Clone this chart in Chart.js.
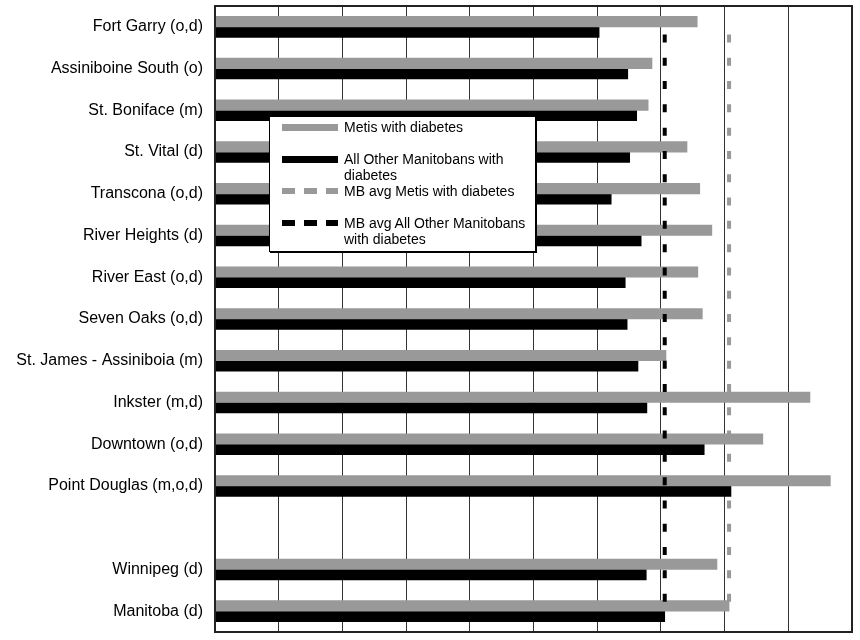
<!DOCTYPE html>
<html>
<head>
<meta charset="utf-8">
<script src="https://cdn.jsdelivr.net/npm/chart.js@4/dist/chart.umd.min.js"></script>
<style>
    body { margin: 0; background: #fff; font-family: "Liberation Sans", Arial, sans-serif; }
    #wrap { position: relative; width: 860px; height: 640px; }
    #legend-box {
        position: absolute; left: 269px; top: 116px; width: 265px;
        background: #fff; border: 1px solid #000; box-shadow: 1px 1px 0 #000;
        padding: 2px 0 4px 0;
    }
    .legend-row { display: flex; height: 32px; align-items: flex-start; }
    .legend-symbol { width: 56px; margin: 5px 6px 0 12px; flex: none; }
    .legend-text { width: 186px; font-size: 14px; line-height: 16px; color: #000; }
</style>
</head>
<body>
<div id="wrap">
    <canvas id="chart" width="860" height="640"></canvas>
    <div id="legend-box"></div>
</div>
<script>
// Categories (blank row separates the areas from Winnipeg / Manitoba)
const categories = [
    'Fort Garry (o,d)', 'Assiniboine South (o)', 'St. Boniface (m)', 'St. Vital (d)',
    'Transcona (o,d)', 'River Heights (d)', 'River East (o,d)', 'Seven Oaks (o,d)',
    'St. James - Assiniboia (m)', 'Inkster (m,d)', 'Downtown (o,d)', 'Point Douglas (m,o,d)',
    '', 'Winnipeg (d)', 'Manitoba (d)'
];
const metisValues = [7.57, 6.86, 6.80, 7.41, 7.61, 7.80, 7.58, 7.65, 7.08, 9.34, 8.60, 9.66, null, 7.88, 8.07];
const otherValues = [6.03, 6.48, 6.62, 6.51, 6.22, 6.69, 6.44, 6.47, 6.64, 6.78, 7.68, 8.10, null, 6.77, 7.06];
const avgMetis = 8.07;
const avgOther = 7.06;
const seriesLabels = ['Metis with diabetes', 'All Other Manitobans with diabetes',
    'MB avg Metis with diabetes', 'MB avg All Other Manitobans with diabetes'];
const seriesColors = ['#999999', '#000000', '#999999', '#000000'];
const xTicks = [0, 1, 2, 3, 4, 5, 6, 7, 8, 9, 10];

// full-height vertical line on a hidden 0..1 axis
function avgLine(value) {
    return [{ x: value, y: 1 }, { x: value, y: 0 }];
}

// frame around the plot area
const frame = {
    id: 'frame',
    afterDraw(chart) {
        const a = chart.chartArea;
        const ctx = chart.ctx;
        ctx.save();
        ctx.strokeStyle = '#222';
        ctx.lineWidth = 2;
        ctx.strokeRect(a.left, a.top, a.right - a.left, a.bottom - a.top);
        ctx.restore();
    }
};

// the line datasets take a slot in the bar grouping too, so they go first and last
// and the two bars land in the middle slots of each row
var chart = new Chart(document.getElementById('chart').getContext('2d'), {
    type: 'bar',
    data: {
        labels: categories,
        datasets: [
            { type: 'line', label: seriesLabels[3], data: avgLine(avgOther), yAxisID: 'yAvg',
              borderColor: seriesColors[3], borderWidth: 4, borderDash: [8, 15.3], pointRadius: 0, order: 0 },
            { label: seriesLabels[0], data: metisValues, backgroundColor: seriesColors[0], order: 1,
              categoryPercentage: 1.0, barPercentage: 1.0 },
            { label: seriesLabels[1], data: otherValues, backgroundColor: seriesColors[1], order: 1,
              categoryPercentage: 1.0, barPercentage: 1.0 },
            { type: 'line', label: seriesLabels[2], data: avgLine(avgMetis), yAxisID: 'yAvg',
              borderColor: seriesColors[2], borderWidth: 4, borderDash: [8, 15.3], pointRadius: 0, order: 2 }
        ]
    },
    options: {
        indexAxis: 'y',
        responsive: false,
        animation: false,
        layout: { padding: { top: 6, right: 8, bottom: 8, left: 0 } },
        plugins: { legend: { display: false }, tooltip: { enabled: false } },
        scales: {
            x: {
                min: 0, max: 10,
                afterBuildTicks: function (scale) { scale.ticks = xTicks.map(v => ({ value: v })); },
                ticks: { display: false },
                grid: { color: '#333', lineWidth: 1, drawTicks: false },
                border: { display: false }
            },
            y: {
                afterFit: function (scale) {
                    scale.width = 215;
                    scale.paddingTop = 0;
                    scale.paddingBottom = 0;
                },
                ticks: { color: '#000', padding: 12, font: { family: 'Liberation Sans', size: 16 } },
                grid: { display: false, drawTicks: false },
                border: { color: '#000', width: 2 }
            },
            yAvg: { type: 'linear', min: 0, max: 1, display: false }
        }
    },
    plugins: [frame]
});

// legend box drawn as html, inside the plot like the original
function buildLegend() {
    const box = document.getElementById('legend-box');
    [0, 1, 2, 3].forEach(function (i) {
        const row = document.createElement('div');
        row.className = 'legend-row';
        const sym = document.createElement('div');
        sym.className = 'legend-symbol';
        if (i < 2) {
            sym.style.height = '7px';
            sym.style.background = seriesColors[i];
        } else {
            sym.style.height = '6px';
            sym.style.background = 'repeating-linear-gradient(to right, ' + seriesColors[i] +
                ' 0 13px, transparent 13px 22px)';
        }
        const txt = document.createElement('div');
        txt.className = 'legend-text';
        txt.textContent = seriesLabels[i];
        row.appendChild(sym);
        row.appendChild(txt);
        box.appendChild(row);
    });
}
buildLegend();
</script>
</body>
</html>
